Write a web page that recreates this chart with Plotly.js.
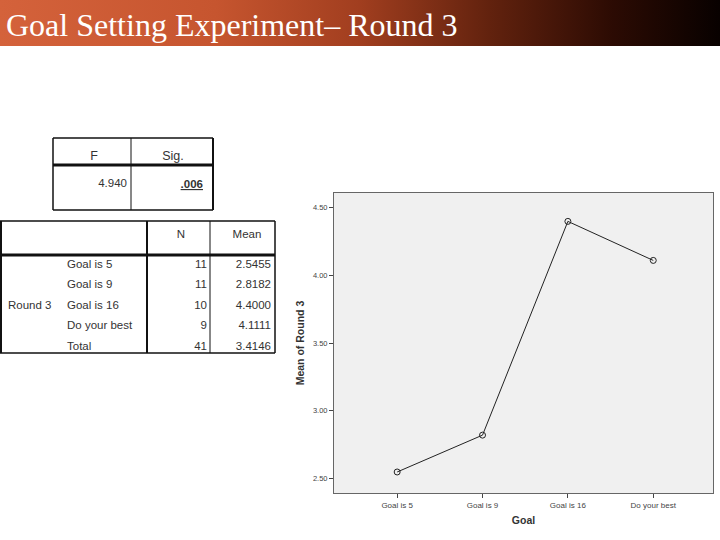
<!DOCTYPE html>
<html>
<head>
<meta charset="utf-8">
<script src="https://cdn.plot.ly/plotly-3.0.1.min.js"></script>
<style>
  body { margin: 0; background: #fff; }
  #chart {
    width: 720px; height: 540px;
    background: linear-gradient(to right, #d4623b 0%, #c6552f 30%, #a13e1f 50%, #62220e 68%, #2c0b03 85%, #080100 100%) no-repeat;
    background-size: 720px 46px;
  }
</style>
</head>
<body>
<div id="chart"></div>
<script>
// chart data
var goals = ["Goal is 5", "Goal is 9", "Goal is 16", "Do your best"];
var means = [2.5455, 2.8182, 4.4000, 4.1111];
var yTicks = [2.5, 3.0, 3.5, 4.0, 4.5];

// ANOVA table
var anovaHead = ["F", "Sig."];
var anovaVals = ["4.940", ".006"];

// descriptives table
var descHead = ["", "", "N", "Mean"];
var rowGroup = ["", "", "Round\u00a03", "", ""];
var rowLabels = ["Goal\u00a0is\u00a05", "Goal\u00a0is\u00a09", "Goal\u00a0is\u00a016", "Do\u00a0your\u00a0best", "Total"];
var counts = [11, 11, 10, 9, 41];
var rowMeans = ["2.5455", "2.8182", "4.4000", "4.1111", "3.4146"];

var W = 720, H = 540;
function px(x) { return x / W; }
function py(y) { return 1 - y / H; }

var tblFont = {family: "Liberation Sans, Arial", size: 11.5, color: "#333"};
var noLine = {width: 0, color: "rgba(0,0,0,0)"};

var line = {
  type: "scatter",
  mode: "lines+markers",
  x: goals,
  y: means,
  line: {color: "#222", width: 1},
  marker: {symbol: "circle-open", size: 6, color: "#222", line: {width: 1}},
  showlegend: false,
  hoverinfo: "skip"
};

// table is nudged down a little so the body value sits mid-cell; frame lines are shapes
var anova = {
  type: "table",
  domain: {x: [px(53), px(211)], y: [py(215), py(143)]},
  columnwidth: [82, 76],
  header: {
    values: anovaHead,
    height: 27,
    align: "center",
    font: {family: "Liberation Sans, Arial", size: 12.5, color: "#333"},
    line: noLine,
    fill: {color: "white"}
  },
  cells: {
    values: [[anovaVals[0]], ["<b><u>" + anovaVals[1] + "</u></b>"]],
    height: 45,
    align: "right",
    font: tblFont,
    line: noLine,
    fill: {color: "white"}
  }
};

var desc = {
  type: "table",
  domain: {x: [0, px(279)], y: [py(353), py(221)]},
  columnwidth: [59, 88, 68, 64],
  header: {
    values: descHead,
    height: 30,
    align: "center",
    font: tblFont,
    line: noLine,
    fill: {color: "rgba(0,0,0,0)"}
  },
  cells: {
    values: [rowGroup, rowLabels, counts, rowMeans],
    height: 20.5,
    align: ["left", "left", "right", "right"],
    font: tblFont,
    line: noLine,
    fill: {color: "rgba(0,0,0,0)"}
  }
};

function seg(x0, y0, x1, y1, w) {
  return {type: "line", xref: "paper", yref: "paper",
    x0: px(x0), y0: py(y0), x1: px(x1), y1: py(y1),
    line: {color: "#111", width: w}};
}

var shapes = [
  // white cover for the part of the anova table pushed below its frame
  {type: "rect", xref: "paper", yref: "paper", layer: "above",
    x0: px(52), x1: px(214), y0: py(217), y1: py(211),
    fillcolor: "white", line: {width: 0}},
  // anova table frame
  seg(53, 138, 213, 138, 1.5), seg(53, 210, 213, 210, 1.5),
  seg(53, 138, 53, 210, 1.5), seg(213, 138, 213, 210, 2),
  seg(131, 138, 131, 210, 1), seg(53, 165, 213, 165, 3),
  // descriptives frame
  seg(0, 221, 275, 221, 1.5), seg(0, 353, 275, 353, 1.5),
  seg(1, 221, 1, 353, 2), seg(275, 221, 275, 353, 1.5),
  seg(147, 221, 147, 353, 2), seg(210, 221, 210, 353, 1),
  seg(0, 255, 275, 255, 3)
];

var layout = {
  width: W, height: H,
  margin: {l: 0, r: 0, t: 0, b: 0},
  paper_bgcolor: "rgba(0,0,0,0)",
  plot_bgcolor: "#f0f0f0",
  title: {
    text: "Goal Setting Experiment\u2013 Round 3",
    x: px(6), xanchor: "left",
    y: py(25), yanchor: "middle",
    font: {family: "Liberation Serif, Times New Roman", size: 32, color: "#fff"}
  },
  xaxis: {
    domain: [px(334), px(713)],
    type: "category",
    range: [-0.74, 3.7],
    showline: true, mirror: true, linecolor: "#666", linewidth: 1,
    ticks: "outside", ticklen: 4, tickcolor: "#444",
    showgrid: false, zeroline: false,
    tickfont: {family: "Liberation Sans, Arial", size: 8, color: "#444"},
    title: {text: "<b>Goal</b>", standoff: 8,
      font: {family: "Liberation Sans, Arial", size: 10.5, color: "#333"}}
  },
  yaxis: {
    domain: [py(493), py(193)],
    range: [2.39, 4.61],
    tickvals: yTicks,
    tickformat: ".2f",
    showline: true, mirror: true, linecolor: "#666", linewidth: 1,
    ticks: "outside", ticklen: 4, tickcolor: "#444",
    showgrid: false, zeroline: false,
    tickfont: {family: "Liberation Sans, Arial", size: 7.5, color: "#444"},
    title: {text: "<b>Mean of Round 3</b>", standoff: 6,
      font: {family: "Liberation Sans, Arial", size: 10.5, color: "#333"}}
  },
  shapes: shapes
};

Plotly.newPlot("chart", [anova, desc, line], layout, {displayModeBar: false, staticPlot: true});
</script>
</body>
</html>
